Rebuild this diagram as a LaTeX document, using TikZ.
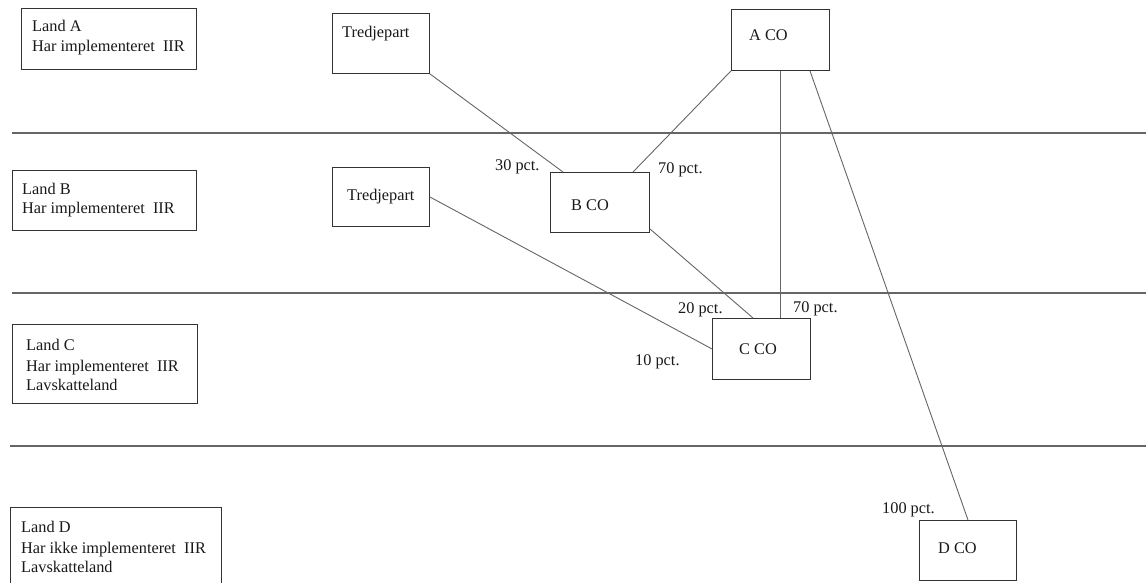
\documentclass[tikz,border=0pt]{standalone}
\usepackage{fontspec}
\setmainfont{Liberation Serif}
\usetikzlibrary{calc}
\begin{document}
\begin{tikzpicture}[x=1pt,y=-1pt,
  box/.style={draw=black!80, line width=0.9pt, anchor=north west, inner sep=0pt},
  txt/.style={anchor=base west, inner sep=0pt, font=\fontsize{16.3}{20}\selectfont, text=black!90},
  lbl/.style={anchor=base west, inner sep=0pt, font=\fontsize{16.3}{20}\selectfont, text=black!90},
  sep/.style={draw=black!60, line width=1.1pt},
  con/.style={draw=black!60, line width=0.9pt}]
\useasboundingbox[fill=white] (0,0) rectangle (1146,582);
% separators
\coordinate (s1a) at (12,133); \coordinate (s1b) at (1146,133);
\coordinate (s2a) at (12,293); \coordinate (s2b) at (1146,293);
\coordinate (s3a) at (10,446); \coordinate (s3b) at (1146,446);
\draw[sep] (s1a) -- (s1b);
\draw[sep] (s2a) -- (s2b);
\draw[sep] (s3a) -- (s3b);
% country boxes
\node[box, minimum width=175, minimum height=61] (landA) at (21,8) {};
\node[txt] (landAt1) at (32,31) {Land A};
\node[txt] (landAt2) at (32,51) {Har implementeret\ \ IIR};
\node[box, minimum width=184, minimum height=60] (landB) at (12,170) {};
\node[txt] (landBt1) at (22,194) {Land B};
\node[txt] (landBt2) at (22,213) {Har implementeret\ \ IIR};
\node[box, minimum width=185, minimum height=79] (landC) at (12,324) {};
\node[txt] (landCt1) at (26,350) {Land C};
\node[txt] (landCt2) at (26,371) {Har implementeret\ \ IIR};
\node[txt] (landCt3) at (26,390) {Lavskatteland};
\node[box, minimum width=211, minimum height=80] (landD) at (10,507) {};
\node[txt] (landDt1) at (21,532) {Land D};
\node[txt] (landDt2) at (21,553) {Har ikke implementeret\ \ IIR};
\node[txt] (landDt3) at (21,572) {Lavskatteland};
% entities
\node[box, minimum width=97, minimum height=60] (t1) at (332,13) {};
\node[txt] (t1t) at (342,37) {Tredjepart};
\node[box, minimum width=97, minimum height=59] (t2) at (332,167) {};
\node[txt] (t2t) at (347,200) {Tredjepart};
\node[box, minimum width=98, minimum height=61] (aco) at (731,9) {};
\node[txt] (acot) at (749,40) {A CO};
\node[box, minimum width=99, minimum height=60] (bco) at (550,172) {};
\node[txt] (bcot) at (571,210) {B CO};
\node[box, minimum width=98, minimum height=61] (cco) at (712,318) {};
\node[txt] (ccot) at (739,354) {C CO};
\node[box, minimum width=97, minimum height=60] (dco) at (919,520) {};
\node[txt] (dcot) at (938,553) {D CO};
% connectors
\draw[con] (t1.south east) -- ($(bco.north west)+(13,0)$);
\draw[con] (aco.south west) -- ($(bco.north west)+(83,0)$);
\draw[con] ($(aco.south west)+(49,0)$) -- ($(cco.north west)+(68,0)$);
\draw[con] ($(aco.south west)+(79,0)$) -- ($(dco.north west)+(49,0)$);
\draw[con] ($(bco.south east)+(0,-4)$) -- ($(cco.north west)+(41,0)$);
\draw[con] (t2.east) -- (cco.west);
% ownership labels
\node[lbl] (p30) at (495,170) {30 pct.};
\node[lbl] (p70a) at (658,173) {70 pct.};
\node[lbl] (p20) at (678,313) {20 pct.};
\node[lbl] (p70b) at (793,312) {70 pct.};
\node[lbl] (p10) at (635,365) {10 pct.};
\node[lbl] (p100) at (882,513) {100 pct.};
\end{tikzpicture}
\end{document}
